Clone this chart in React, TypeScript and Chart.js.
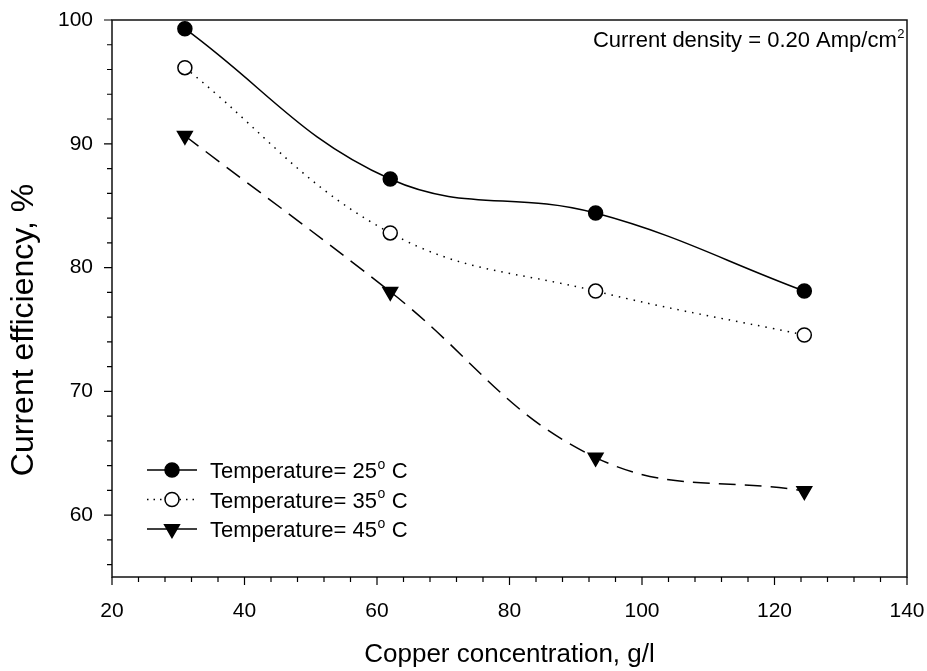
import React, { useEffect, useRef } from 'react';
import { Chart, registerables } from 'chart.js';
import { drawPoint } from 'chart.js/helpers';

Chart.register(...registerables);

const concentrations = [31, 62, 93, 124.5];
const eff25 = [99.3, 87.15, 84.4, 78.1];
const eff35 = [96.15, 82.8, 78.1, 74.55];
const eff45 = [90.65, 78.05, 64.65, 61.95];
const seriesNames = ['Temperature= 25', 'Temperature= 35', 'Temperature= 45'];

const xMajorTicks = [20, 40, 60, 80, 100, 120, 140];
const xMinorTicks = [24, 28, 32, 36, 44, 48, 52, 56, 64, 68, 72, 76, 84, 88, 92, 96, 104, 108, 112, 116, 124, 128, 132, 136];
const yMajorTicks = [60, 70, 80, 90, 100];
const yMinorTicks = [56, 58, 62, 64, 66, 68, 72, 74, 76, 78, 82, 84, 86, 88, 92, 94, 96, 98];

const xTitle = 'Copper concentration, g/l';
const yTitle = 'Current efficiency, %';
const noteMain = 'Current density = 0.20 Amp/cm';
const noteSup = '2';

const FONT = '"Liberation Sans", Arial, Helvetica, sans-serif';

const toPoints = (ys: number[]) => concentrations.map((x, i) => ({ x, y: ys[i] }));

const styles = [
  { pointStyle: 'circle', radius: 7, rotation: 0, fill: '#000', dash: [] as number[] },
  { pointStyle: 'circle', radius: 7, rotation: 0, fill: '#fff', dash: [1.5, 6] },
  { pointStyle: 'triangle', radius: 8.5, rotation: 180, fill: '#000', dash: [17, 9] },
];
const legendDash = [[], [1.5, 5], []];

function drawWithSup(ctx: CanvasRenderingContext2D, x: number, baseline: number, main: string, sup: string, rest: string, size: number, supSize: number, align: 'left' | 'right') {
  ctx.font = `${size}px ${FONT}`;
  const wMain = ctx.measureText(main).width;
  const wRest = ctx.measureText(rest).width;
  ctx.font = `${supSize}px ${FONT}`;
  const wSup = ctx.measureText(sup).width;
  const total = wMain + wSup + wRest;
  const sx = align === 'left' ? x : x - total;
  ctx.textAlign = 'left';
  ctx.textBaseline = 'alphabetic';
  ctx.font = `${size}px ${FONT}`;
  ctx.fillText(main, sx, baseline);
  ctx.font = `${supSize}px ${FONT}`;
  ctx.fillText(sup, sx + wMain + 0.5, baseline - size * 0.42);
  ctx.font = `${size}px ${FONT}`;
  ctx.fillText(rest, sx + wMain + wSup + 1, baseline);
}

const decorPlugin = {
  id: 'decor',
  afterDraw(chart: any) {
    const { ctx, chartArea: a, scales } = chart;
    const xs = scales.x;
    const ys = scales.y;
    ctx.save();
    ctx.strokeStyle = '#111';
    ctx.lineWidth = 1.5;
    ctx.strokeRect(a.left, a.top, a.right - a.left, a.bottom - a.top);

    ctx.lineWidth = 1.2;
    ctx.strokeStyle = '#000';
    ctx.beginPath();
    xMajorTicks.forEach((v) => {
      const p = xs.getPixelForValue(v);
      ctx.moveTo(p, a.bottom);
      ctx.lineTo(p, a.bottom + 8);
    });
    xMinorTicks.forEach((v) => {
      const p = xs.getPixelForValue(v);
      ctx.moveTo(p, a.bottom);
      ctx.lineTo(p, a.bottom + 5);
    });
    yMajorTicks.forEach((v) => {
      const p = ys.getPixelForValue(v);
      ctx.moveTo(a.left, p);
      ctx.lineTo(a.left - 8, p);
    });
    yMinorTicks.forEach((v) => {
      const p = ys.getPixelForValue(v);
      ctx.moveTo(a.left, p);
      ctx.lineTo(a.left - 5, p);
    });
    ctx.stroke();

    ctx.fillStyle = '#000';
    ctx.font = `26px ${FONT}`;
    ctx.textAlign = 'center';
    ctx.textBaseline = 'alphabetic';
    ctx.fillText(xTitle, (a.left + a.right) / 2, 662);
    ctx.save();
    ctx.translate(33, 330);
    ctx.rotate(-Math.PI / 2);
    ctx.font = `32px ${FONT}`;
    ctx.fillText(yTitle, 0, 0);
    ctx.restore();

    drawWithSup(ctx, a.right - 3, 47, noteMain, noteSup, '', 22, 13, 'right');

    const rowsY = [470, 499.5, 529];
    seriesNames.forEach((name, i) => {
      const cy = rowsY[i];
      const st = styles[i];
      ctx.save();
      ctx.strokeStyle = '#000';
      ctx.lineWidth = 1.5;
      ctx.setLineDash(legendDash[i]);
      ctx.beginPath();
      ctx.moveTo(a.left + 35, cy);
      ctx.lineTo(a.left + 85, cy);
      ctx.stroke();
      ctx.setLineDash([]);
      ctx.fillStyle = st.fill;
      ctx.strokeStyle = '#000';
      ctx.lineWidth = 1.5;
      drawPoint(ctx, { pointStyle: st.pointStyle as any, radius: st.radius, rotation: st.rotation, borderWidth: 1.5 }, a.left + 60, cy);
      ctx.restore();
      ctx.fillStyle = '#000';
      drawWithSup(ctx, a.left + 98, cy + 8, name, 'o', ' C', 22, 14, 'left');
    });
    ctx.restore();
  },
};

export default function App() {
  const ref = useRef<HTMLCanvasElement | null>(null);
  useEffect(() => {
    if (!ref.current) return;
    const datasets = [eff25, eff35, eff45].map((ys, i) => ({
      label: seriesNames[i],
      data: toPoints(ys),
      borderColor: '#000',
      borderWidth: 1.5,
      borderDash: styles[i].dash,
      tension: 0.4,
      pointStyle: styles[i].pointStyle,
      pointRadius: styles[i].radius,
      pointRotation: styles[i].rotation,
      pointBackgroundColor: styles[i].fill,
      pointBorderColor: '#000',
      pointBorderWidth: 1.5,
      fill: false,
    }));
    const chart = new Chart(ref.current, {
      type: 'line',
      data: { datasets } as any,
      options: {
        responsive: false,
        animation: false,
        layout: { padding: { left: 0, top: 20, right: 20, bottom: 0 } },
        plugins: { legend: { display: false }, tooltip: { enabled: false } },
        scales: {
          x: {
            type: 'linear',
            min: 20,
            max: 140,
            grid: { display: false, drawTicks: false },
            border: { display: false },
            afterBuildTicks: (s: any) => { s.ticks = xMajorTicks.map((v) => ({ value: v })); },
            afterFit: (s: any) => { s.height = 94; s.paddingLeft = 0; s.paddingRight = 0; },
            ticks: { color: '#000', padding: 22, maxRotation: 0, autoSkip: false, font: { family: FONT, size: 21 } },
          },
          y: {
            type: 'linear',
            min: 55,
            max: 100,
            grid: { display: false, drawTicks: false },
            border: { display: false },
            afterBuildTicks: (s: any) => { s.ticks = yMajorTicks.map((v) => ({ value: v })); },
            afterFit: (s: any) => { s.width = 112; s.paddingTop = 0; s.paddingBottom = 0; },
            ticks: { color: '#000', padding: 19, autoSkip: false, font: { family: FONT, size: 21 } },
          },
        },
      },
      plugins: [decorPlugin],
    });
    return () => chart.destroy();
  }, []);
  return (
    <div style={{ position: 'fixed', left: 0, top: 0, width: 927, height: 671, background: '#fff' }}>
      <canvas ref={ref} width={927} height={671} style={{ display: 'block' }} />
    </div>
  );
}
